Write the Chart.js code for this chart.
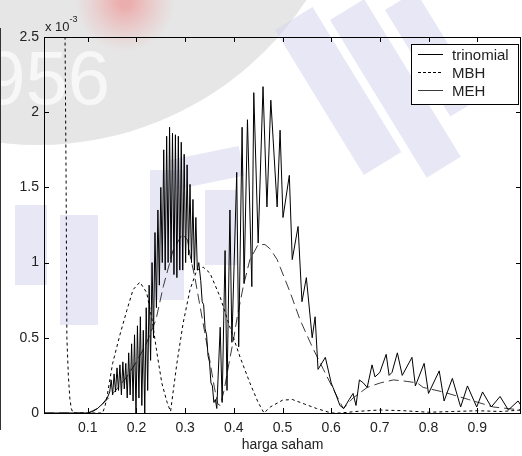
<!DOCTYPE html>
<html>
<head>
<meta charset="utf-8">
<script src="https://cdn.jsdelivr.net/npm/chart.js@4.4.1/dist/chart.umd.min.js"></script>
<style>
    html, body { margin: 0; padding: 0; background: #fff; }
    #wrap { position: relative; width: 522px; height: 456px; }
</style>
</head>
<body>
<div id="wrap"><canvas id="densityChart" width="522" height="456"></canvas></div>
<script>
// axis ticks (y values are in units of 10^-3)
const xTicks = [0.1, 0.2, 0.3, 0.4, 0.5, 0.6, 0.7, 0.8, 0.9];
const yTicks = [0, 0.5, 1, 1.5, 2, 2.5];
const seriesNames = ["trinomial", "MBH", "MEH"];

// trinomial density, [harga saham, density]
const trinomialPoints = [
    [0.01, 0], [0.1, 0], [0.11, 0.01], [0.12, 0.03], [0.13, 0.06], [0.14, 0.1], [0.145, 0.14],
    [0.148, 0.22], [0.151, 0.12], [0.154, 0.26], [0.157, 0.14], [0.16, 0.3], [0.163, 0.15],
    [0.166, 0.32], [0.169, 0.12], [0.172, 0.34], [0.175, 0.16], [0.178, 0.33], [0.181, 0.1],
    [0.184, 0.4], [0.187, 0.12], [0.19, 0.46], [0.193, 0.08], [0.196, 0.52], [0.199, 0.0],
    [0.202, 0.58], [0.205, 0.1], [0.208, 0.64], [0.211, 0.05], [0.214, 0.55], [0.217, 0.0],
    [0.22, 0.7], [0.223, 0.15], [0.226, 0.85], [0.229, 0.35], [0.232, 1.0], [0.235, 0.5],
    [0.238, 1.2], [0.241, 0.7], [0.244, 1.35], [0.247, 0.85], [0.25, 1.5], [0.253, 1.0],
    [0.256, 1.75], [0.259, 0.95], [0.262, 1.84], [0.265, 1.0], [0.268, 1.9], [0.271, 1.0],
    [0.274, 1.86], [0.277, 0.92], [0.28, 1.85], [0.283, 0.9], [0.286, 1.84], [0.289, 0.95],
    [0.292, 1.8], [0.295, 0.95], [0.298, 1.72], [0.301, 1.0], [0.304, 1.65], [0.307, 1.05],
    [0.31, 1.52], [0.313, 1.0], [0.316, 1.42], [0.319, 0.95], [0.322, 1.3], [0.325, 0.95],
    [0.328, 1.0], [0.332, 0.88], [0.335, 0.74], [0.338, 0.72], [0.341, 0.56], [0.344, 0.52],
    [0.347, 0.38], [0.35, 0.34], [0.353, 0.2], [0.356, 0.18], [0.359, 0.07], [0.362, 0.09],
    [0.365, 0.03], [0.372, 0.57], [0.376, 0.07], [0.382, 1.08], [0.386, 0.15], [0.392, 1.35],
    [0.396, 0.47], [0.406, 1.6], [0.41, 0.44], [0.417, 1.9], [0.421, 0.86], [0.428, 1.95],
    [0.437, 0.84], [0.441, 2.13], [0.45, 1.13], [0.46, 2.17], [0.468, 1.37], [0.476, 2.08],
    [0.489, 1.37], [0.495, 1.88], [0.501, 1.3], [0.514, 1.58], [0.52, 1.02], [0.532, 1.24],
    [0.54, 0.74], [0.549, 0.9], [0.561, 0.5], [0.567, 0.64], [0.573, 0.29], [0.588, 0.37],
    [0.6, 0.2], [0.61, 0.12], [0.618, 0.05], [0.626, 0.03], [0.637, 0.09], [0.645, 0.13],
    [0.651, 0.05], [0.658, 0.22], [0.666, 0.2], [0.674, 0.17], [0.684, 0.32], [0.69, 0.24],
    [0.7, 0.27], [0.713, 0.39], [0.719, 0.25], [0.725, 0.27], [0.736, 0.4], [0.746, 0.25],
    [0.766, 0.37], [0.773, 0.18], [0.791, 0.33], [0.8, 0.13], [0.822, 0.28], [0.832, 0.08],
    [0.849, 0.23], [0.866, 0.04], [0.88, 0.18], [0.899, 0.04], [0.911, 0.14], [0.929, 0.04],
    [0.947, 0.11], [0.964, 0.02], [0.984, 0.08], [0.99, 0.05]
];

// MBH density
const mbhPoints = [
    [0.051, 3.5], [0.0555, 1.5], [0.057, 0.5], [0.06, 0.25], [0.063, 0.1], [0.066, 0.03],
    [0.07, 0], [0.13, 0], [0.135, 0.04], [0.139, 0.1], [0.151, 0.33], [0.166, 0.52],
    [0.18, 0.68], [0.193, 0.82], [0.207, 0.87], [0.221, 0.8], [0.232, 0.62], [0.242, 0.4],
    [0.252, 0.2], [0.263, 0.07], [0.27, 0.01], [0.283, 0.33], [0.296, 0.6], [0.31, 0.82],
    [0.324, 0.95], [0.337, 0.97], [0.351, 0.93], [0.372, 0.77], [0.392, 0.57], [0.413, 0.37],
    [0.433, 0.2], [0.45, 0.07], [0.462, 0], [0.475, 0.04], [0.5, 0.085], [0.52, 0.09],
    [0.545, 0.06], [0.57, 0.03], [0.6, 0], [0.62, 0], [0.65, 0.01], [0.7, 0.02],
    [0.75, 0.015], [0.8, 0.005], [0.85, 0.01], [0.9, 0.015], [0.95, 0.01], [0.99, 0.02]
];

// MEH density
const mehPoints = [
    [0.01, 0], [0.1, 0], [0.12, 0.03], [0.14, 0.09], [0.16, 0.16], [0.18, 0.24], [0.2, 0.34],
    [0.22, 0.46], [0.24, 0.62], [0.255, 0.84], [0.275, 1.08], [0.294, 1.19], [0.305, 1.15],
    [0.31, 1.05], [0.32, 0.9], [0.33, 0.72], [0.34, 0.54], [0.35, 0.36], [0.36, 0.17],
    [0.367, 0.06], [0.372, 0.05], [0.38, 0.15], [0.39, 0.33], [0.4, 0.5], [0.407, 0.64],
    [0.42, 0.85], [0.433, 1.02], [0.45, 1.12], [0.464, 1.12], [0.475, 1.09], [0.489, 1.02],
    [0.516, 0.8], [0.536, 0.62], [0.561, 0.44], [0.584, 0.29], [0.612, 0.11], [0.625, 0.03],
    [0.645, 0.1], [0.674, 0.17], [0.701, 0.2], [0.728, 0.22], [0.756, 0.21], [0.777, 0.2],
    [0.789, 0.17], [0.83, 0.14], [0.882, 0.09], [0.933, 0.04], [0.99, 0.02]
];

const toXY = (pts) => pts.map((p) => ({ x: p[0], y: p[1] }));
const FONT = "'Liberation Sans', Arial, Helvetica, sans-serif";

// faint logo stamped behind the axes
const backdrop = {
    id: "backdrop",
    beforeDraw(chart) {
        const ctx = chart.ctx;
        ctx.save();

        // grey seal in the top-left corner
        ctx.fillStyle = "#e6e6e6";
        ctx.beginPath();
        ctx.arc(38, -176, 321, 0, Math.PI * 2);
        ctx.fill();
        ctx.fillStyle = "#f7f7f7";
        ctx.font = "76px " + FONT;
        ctx.textAlign = "right";
        ctx.textBaseline = "alphabetic";
        ctx.fillText("1956", 110, 104);

        // soft red spot at the top
        const g = ctx.createRadialGradient(125, 2, 6, 125, 2, 50);
        g.addColorStop(0, "rgba(238,150,150,0.7)");
        g.addColorStop(1, "rgba(238,170,170,0)");
        ctx.fillStyle = g;
        ctx.fillRect(60, 0, 130, 60);

        // lavender lettering running across the plot
        ctx.fillStyle = "rgba(212,212,238,0.55)";
        const bars = [
            [15, 205, 32, 80, 0],
            [60, 215, 38, 110, 0],
            [150, 170, 34, 130, 0],
            [170, 160, 70, 30, -0.2],
            [205, 190, 32, 75, 0],
            [275, 30, 44, 170, -0.55],
            [330, 20, 40, 185, -0.55],
            [385, 10, 36, 125, -0.55],
        ];
        bars.forEach(([x, y, w, h, a]) => {
            ctx.save();
            ctx.translate(x, y);
            ctx.rotate(a);
            ctx.fillRect(0, 0, w, h);
            ctx.restore();
        });
        ctx.restore();
    }
};

// box, inward ticks, exponent label and legend drawn like a matlab axes
const matlabAxes = {
    id: "matlabAxes",
    afterDraw(chart) {
        const ctx = chart.ctx;
        const area = chart.chartArea;
        const xs = chart.scales.x;
        const ys = chart.scales.y;
        const tick = 5;

        ctx.save();
        ctx.strokeStyle = "#000";
        ctx.lineWidth = 1;
        ctx.strokeRect(Math.round(area.left) + 0.5, Math.round(area.top) + 0.5,
            Math.round(area.right - area.left) - 1, Math.round(area.bottom - area.top));

        ctx.beginPath();
        xTicks.forEach((v) => {
            const px = Math.round(xs.getPixelForValue(v)) + 0.5;
            ctx.moveTo(px, area.bottom);
            ctx.lineTo(px, area.bottom - tick);
            ctx.moveTo(px, area.top);
            ctx.lineTo(px, area.top + tick);
        });
        yTicks.forEach((v) => {
            const py = Math.round(ys.getPixelForValue(v)) + 0.5;
            ctx.moveTo(area.left, py);
            ctx.lineTo(area.left + tick, py);
            ctx.moveTo(area.right, py);
            ctx.lineTo(area.right - tick, py);
        });
        ctx.stroke();

        // neighbouring panel edge
        ctx.strokeStyle = "#333";
        ctx.beginPath();
        ctx.moveTo(0.5, 28);
        ctx.lineTo(0.5, 430);
        ctx.stroke();

        // exponent
        ctx.fillStyle = "#222";
        ctx.textBaseline = "alphabetic";
        ctx.textAlign = "left";
        ctx.font = "13px " + FONT;
        ctx.fillText("x 10", area.left + 1, 31);
        const w = ctx.measureText("x 10").width;
        ctx.font = "9px " + FONT;
        ctx.fillText("-3", area.left + 1 + w, 22);

        // legend
        const lx = 411, ly = 44, lw = 107, lh = 60;
        ctx.fillStyle = "#fff";
        ctx.fillRect(lx, ly, lw, lh);
        ctx.strokeStyle = "#000";
        ctx.strokeRect(lx + 0.5, ly + 0.5, lw, lh);
        ctx.font = "15px " + FONT;
        ctx.textBaseline = "middle";
        chart.data.datasets.forEach((ds, i) => {
            const y = ly + 10.5 + i * 18;
            ctx.strokeStyle = ds.borderColor;
            ctx.setLineDash(ds.legendDash || []);
            ctx.beginPath();
            ctx.moveTo(lx + 7, y);
            ctx.lineTo(lx + 32, y);
            ctx.stroke();
            ctx.setLineDash([]);
            ctx.fillStyle = "#222";
            ctx.fillText(ds.label, lx + 41, y + 1);
        });
        ctx.restore();
    }
};

const ctxDensity = document.getElementById("densityChart").getContext("2d");
const densityChart = new Chart(ctxDensity, {
    type: "line",
    data: {
        datasets: [
            {
                label: seriesNames[0],
                data: toXY(trinomialPoints),
                borderColor: "#000",
                borderWidth: 1,
            },
            {
                label: seriesNames[1],
                data: toXY(mbhPoints),
                borderColor: "#000",
                borderWidth: 1,
                borderDash: [3, 3],
                legendDash: [3, 2],
            },
            {
                label: seriesNames[2],
                data: toXY(mehPoints),
                borderColor: "#3a3a3a",
                borderWidth: 1,
                borderDash: [10, 5],
            },
        ],
    },
    options: {
        responsive: false,
        animation: false,
        layout: { padding: { left: 0, right: 1, top: 37, bottom: 0 } },
        elements: { point: { radius: 0 }, line: { tension: 0 } },
        plugins: {
            legend: { display: false },
            tooltip: { enabled: false },
        },
        scales: {
            x: {
                type: "linear",
                min: 0.01,
                max: 0.99,
                grid: { display: false, drawTicks: false },
                border: { display: false },
                afterBuildTicks: (scale) => { scale.ticks = xTicks.map((v) => ({ value: v })); },
                afterFit: (scale) => { scale.height = 43; },
                ticks: {
                    padding: 7,
                    maxRotation: 0,
                    color: "#222",
                    font: { family: FONT, size: 14 },
                    callback: (v) => String(v),
                },
                title: {
                    display: true,
                    text: "harga saham",
                    color: "#222",
                    font: { family: FONT, size: 14 },
                    padding: { top: 0, bottom: 2 },
                },
            },
            y: {
                min: 0,
                max: 2.5,
                grid: { display: false, drawTicks: false },
                border: { display: false },
                afterBuildTicks: (scale) => { scale.ticks = yTicks.map((v) => ({ value: v })); },
                afterFit: (scale) => { scale.width = 44; },
                ticks: {
                    padding: 5,
                    color: "#222",
                    font: { family: FONT, size: 14 },
                    callback: (v) => String(v),
                },
            },
        },
    },
    plugins: [backdrop, matlabAxes],
});
</script>
</body>
</html>
